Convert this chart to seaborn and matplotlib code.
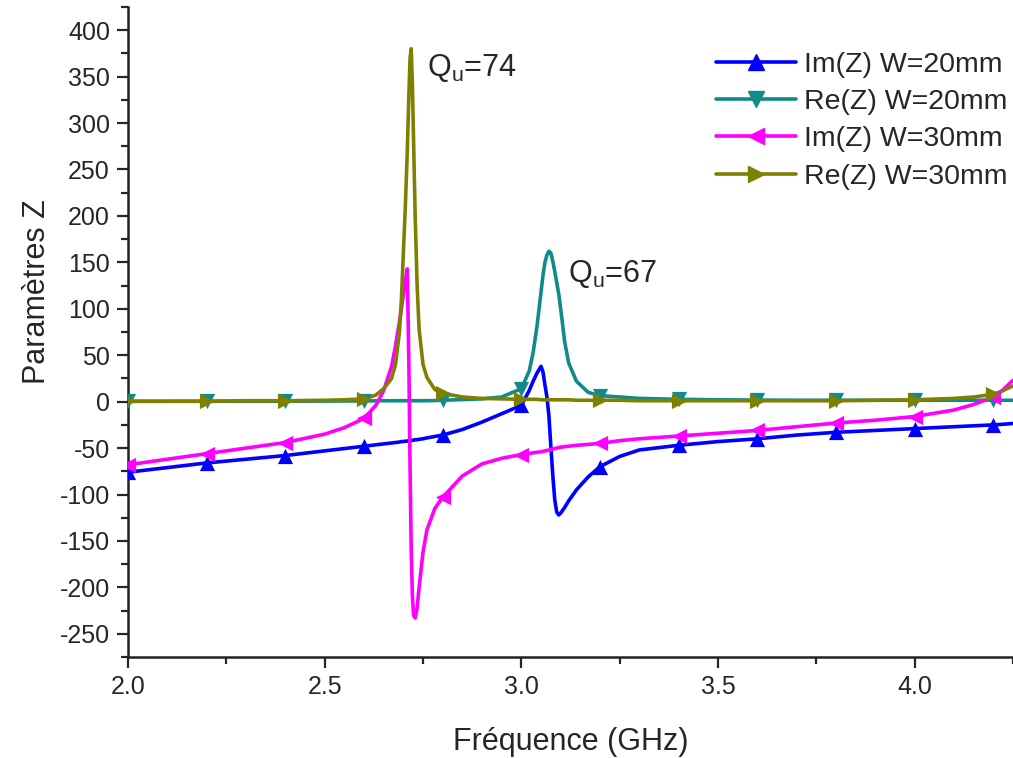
import matplotlib
matplotlib.use("Agg")
import matplotlib.pyplot as plt
from matplotlib.lines import Line2D
from matplotlib.ticker import MultipleLocator
import seaborn as sns
import pandas as pd

# frequency grid (GHz), denser around the two resonances
freq = [2.0, 2.1, 2.2, 2.3, 2.4, 2.5, 2.55, 2.6, 2.63, 2.65,
        2.67, 2.68, 2.69, 2.695, 2.70, 2.705, 2.71, 2.714, 2.717, 2.72,
        2.723, 2.726, 2.73, 2.735, 2.74, 2.75, 2.76, 2.78, 2.8, 2.85,
        2.9, 2.95, 3.0, 3.02, 3.03, 3.04, 3.05, 3.055, 3.06, 3.065,
        3.07, 3.075, 3.08, 3.085, 3.09, 3.095, 3.1, 3.11, 3.12, 3.14,
        3.17, 3.2, 3.25, 3.3, 3.4, 3.5, 3.6, 3.7, 3.8, 3.9,
        4.0, 4.1, 4.15, 4.2, 4.22, 4.25]

im_z_20 = [-76, -71, -66, -62, -58, -53, -50.5, -48, -46.5, -45.5,
           -44.5, -44, -43.5, -43, -43, -42.5, -42.5, -42, -42, -42,
           -41.5, -41.5, -41, -41, -40.5, -40, -39, -37.5, -36, -30,
           -22, -13, -4, 12, 22, 31, 38, 32, 18, 5,
           -15, -48, -80, -106, -119, -122, -120, -114, -107, -95,
           -81, -70, -59, -52, -47, -43, -40, -36, -33, -31,
           -29, -27, -26, -25, -24.5, -23.5]

re_z_20 = [0.3, 0.3, 0.4, 0.4, 0.5, 0.6, 0.7, 0.8, 0.9, 1,
           1, 1, 1, 1, 1, 1, 1, 1, 1, 1,
           1, 1, 1, 1, 1, 1, 1, 1.2, 1.5, 2.2,
           3, 5, 14, 33, 53, 82, 118, 136, 150, 158,
           162, 160, 151, 140, 128, 116, 100, 65, 42, 22,
           10, 6.5, 5, 3.5, 2.5, 2, 1.7, 1.5, 1.5, 1.5,
           1.5, 1.5, 1.5, 1.5, 1.5, 1.5]

im_z_30 = [-68, -62, -56, -50, -44, -35, -28, -18, -4, 12,
           38, 60, 86, 100, 115, 130, 143, 40, -70, -160,
           -210, -230, -233, -222, -200, -162, -138, -115, -103, -80,
           -67, -61, -57, -56, -55, -54.5, -54, -53.5, -53, -52.5,
           -52, -51.5, -51, -50.5, -50, -49.5, -49, -48.5, -48, -47,
           -46, -45, -42, -40, -37, -34, -31, -27, -23, -20,
           -16, -9, -3, 5, 11, 23]

re_z_30 = [0.5, 0.5, 0.5, 1, 1, 1.5, 2, 3, 7, 14,
           25, 40, 75, 110, 160, 210, 270, 330, 370, 380,
           340, 280, 200, 125, 78, 40, 26, 13, 9, 5,
           3.5, 3, 2.5, 2.5, 2.5, 2.5, 2, 2, 2, 2,
           2, 2, 2, 2, 2, 2, 2, 2, 2, 1.5,
           1.5, 1.5, 1.5, 1, 1, 1, 1, 1, 1, 1.5,
           2, 3.5, 5, 8, 11, 17]

marker_freq = [2.0, 2.2, 2.4, 2.6, 2.8, 3.0, 3.2, 3.4, 3.6, 3.8, 4.0, 4.2]

labels = ["Im(Z) W=20mm", "Re(Z) W=20mm", "Im(Z) W=30mm", "Re(Z) W=30mm"]
series = [im_z_20, re_z_20, im_z_30, re_z_30]
colors = ["#0000ff", "#128a8a", "#ff00ff", "#808000"]
markers = ["^", "v", "<", ">"]

df = pd.concat(
    [pd.DataFrame({"freq": freq, "z": vals, "serie": lab}) for lab, vals in zip(labels, series)],
    ignore_index=True,
)

sns.set_style("ticks")
plt.rcParams["font.family"] = ["Liberation Sans", "DejaVu Sans"]
plt.rcParams["axes.unicode_minus"] = False
plt.rcParams["mathtext.default"] = "regular"

fig = plt.figure(figsize=(10.13, 7.58), dpi=100)
ax = fig.add_axes([0.1264, 0.1332, 0.8736, 0.8576])

handles = []
for lab, col, mk in zip(labels, colors, markers):
    sub = df[df["serie"] == lab]
    sns.lineplot(data=sub, x="freq", y="z", color=col, lw=2.6, sort=False,
                 estimator=None, ax=ax, legend=False)
    pts = sub[sub["freq"].isin(marker_freq)]
    sns.scatterplot(data=pts, x="freq", y="z", color=col, marker=mk, s=120,
                    linewidth=0, ax=ax, legend=False, zorder=3)
    handles.append(Line2D([], [], color=col, lw=2.6, marker=mk, markersize=12))

ax.set_xlim(2.0, 4.25)
ax.set_ylim(-275, 425)
ax.xaxis.set_major_locator(MultipleLocator(0.5))
ax.xaxis.set_minor_locator(MultipleLocator(0.25))
ax.yaxis.set_major_locator(MultipleLocator(50))
ax.yaxis.set_minor_locator(MultipleLocator(25))
ax.xaxis.set_major_formatter(matplotlib.ticker.FormatStrFormatter("%.1f"))
ax.tick_params(which="major", direction="out", length=8, width=1.6, labelsize=18, pad=5)
ax.tick_params(which="minor", direction="out", length=5, width=1.6)
sns.despine(ax=ax)
for side in ["left", "bottom"]:
    ax.spines[side].set_linewidth(1.8)
    ax.spines[side].set_color("#222222")

ax.set_xlabel("Fréquence (GHz)", fontsize=22, labelpad=20)
ax.set_ylabel("Paramètres Z", fontsize=22)
ax.yaxis.set_label_coords(-0.086, 0.5615)

ax.text(2.76, 351, r"Q$_{u}$=74", fontsize=22, va="baseline", ha="left")
ax.text(3.118, 129, r"Q$_{u}$=67", fontsize=22, va="baseline", ha="left")

fig.legend(handles, labels, loc="upper right", bbox_to_anchor=(0.995, 0.932),
           frameon=False, fontsize=20.5, handlelength=2.8, handletextpad=0.3,
           labelspacing=0.4, borderaxespad=0, borderpad=0)

fig.savefig("out.png", dpi=100)
